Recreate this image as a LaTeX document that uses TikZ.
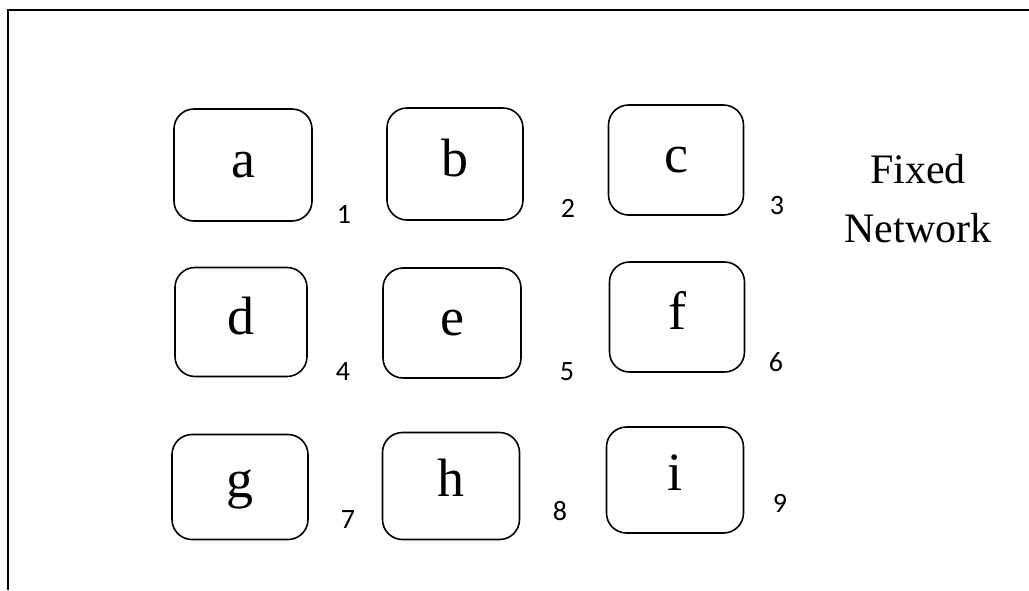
\documentclass[tikz,border=0pt]{standalone}
\usepackage{fontspec}
\setmainfont{Liberation Serif}
\newfontfamily\numfont{Carlito}
\begin{document}
\begin{tikzpicture}[x=1pt,y=-1pt,
  cell/.style={draw, line width=1.6pt, rounded corners=20pt, inner sep=0pt,
    font=\fontsize{54}{54}\selectfont, text height=28pt, text depth=4pt},
  lowrow/.style={text height=24pt},
  num/.style={font=\numfont\fontsize{28}{28}\selectfont, anchor=base, inner sep=0pt},
  frame/.style={line width=1.8pt}]
\useasboundingbox (0,0) rectangle (1029,590);
\draw[frame] (8,590) -- (8,10) -- (1029,10);
\node[cell, minimum width=138pt, minimum height=112pt] (a) at (243,165) {a};
\node[cell, minimum width=136pt, minimum height=112pt] (b) at (455,164) {b};
\node[cell, minimum width=135pt, minimum height=110pt] (c) at (676,160) {c};
\node[cell, minimum width=132pt, minimum height=109pt] (d) at (241,322) {d};
\node[cell, minimum width=138pt, minimum height=110pt] (e) at (452,323) {e};
\node[cell, minimum width=135pt, minimum height=110pt] (f) at (677,317) {f};
\node[cell, lowrow, minimum width=136pt, minimum height=105pt] (g) at (240,487) {g};
\node[cell, lowrow, minimum width=137pt, minimum height=107pt] (h) at (451,486) {h};
\node[cell, lowrow, minimum width=137pt, minimum height=106pt] (i) at (675,480) {i};
\node[num] (n1) at (344,223) {1};
\node[num] (n2) at (568,217) {2};
\node[num] (n3) at (777,214) {3};
\node[num] (n4) at (343,380) {4};
\node[num] (n5) at (567,380) {5};
\node[num] (n6) at (776,371) {6};
\node[num] (n7) at (348,528) {7};
\node[num] (n8) at (560,520) {8};
\node[num] (n9) at (780,512) {9};
\node[font=\fontsize{42}{59}\selectfont, align=center, anchor=base, inner sep=0pt] (fn) at (918,242) {Fixed\\Network};
\end{tikzpicture}
\end{document}
